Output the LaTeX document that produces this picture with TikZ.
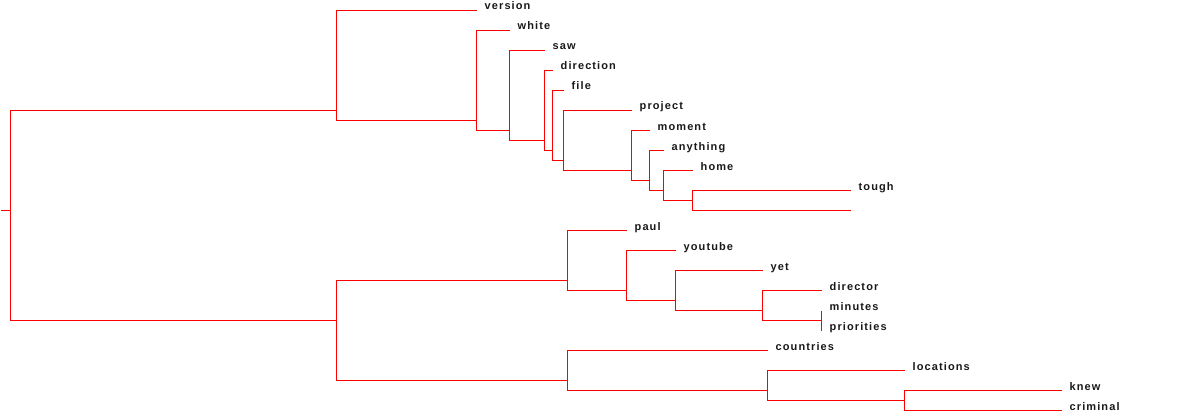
\documentclass[tikz,border=0pt]{standalone}
\usepackage{fontspec}
\setmainfont{Liberation Sans}[LetterSpace=10]
\begin{document}
\begin{tikzpicture}[x=1pt,y=-1pt,
  br/.style={draw=red,line width=1pt},
  lab/.style={anchor=base west,inner sep=0pt,font=\bfseries\fontsize{11}{13}\selectfont,text=black!90,xshift=8pt}]
\useasboundingbox (0,0) rectangle (1200,420);
\begin{scope}[shift={(0.5,0.5)}]
% leaves (line ends)
\coordinate (version) at (476,10);
\coordinate (white) at (509,30);
\coordinate (saw) at (544,50);
\coordinate (direction) at (552,70);
\coordinate (file) at (563,90);
\coordinate (project) at (631,110);
\coordinate (moment) at (649,130);
\coordinate (anything) at (663,150);
\coordinate (home) at (692,170);
\coordinate (tough) at (850,190);
\coordinate (blank) at (850,210);
\coordinate (paul) at (626,230);
\coordinate (youtube) at (675,250);
\coordinate (yet) at (762,270);
\coordinate (director) at (821,290);
\coordinate (minutes) at (821,310);
\coordinate (priorities) at (821,330);
\coordinate (countries) at (767,350);
\coordinate (locations) at (904,370);
\coordinate (knew) at (1061,390);
\coordinate (criminal) at (1061,410);
% internal nodes
\coordinate (n1) at (692,200);
\coordinate (n2) at (663,190);
\coordinate (n3) at (649,180);
\coordinate (n4) at (631,170);
\coordinate (n5) at (563,160);
\coordinate (n6) at (552,150);
\coordinate (n7) at (544,140);
\coordinate (n8) at (509,130);
\coordinate (n9) at (476,120);
\coordinate (n10) at (336,110);
\coordinate (m1) at (821,320);
\coordinate (m2) at (762,310);
\coordinate (m3) at (675,300);
\coordinate (m4) at (626,290);
\coordinate (m5) at (567,280);
\coordinate (k1) at (904,400);
\coordinate (k2) at (767,390);
\coordinate (k3) at (567,380);
\coordinate (m6) at (336,320);
\coordinate (root) at (10,210);
\coordinate (stub) at (0,210);
% branches
\draw[br] (tough) -| (n1) |- (blank);
\draw[br] (home) -| (n2) |- (n1);
\draw[br] (anything) -| (n3) |- (n2);
\draw[br] (moment) -| (n4) |- (n3);
\draw[br] (project) -| (n5) |- (n4);
\draw[br] (file) -| (n6) |- (n5);
\draw[br] (direction) -| (n7) |- (n6);
\draw[br] (saw) -| (n8) |- (n7);
\draw[br] (white) -| (n9) |- (n8);
\draw[br] (version) -| (n10) |- (n9);
\draw[br] (minutes) -- (m1) -- (priorities);
\draw[br] (director) -| (m2) |- (m1);
\draw[br] (yet) -| (m3) |- (m2);
\draw[br] (youtube) -| (m4) |- (m3);
\draw[br] (paul) -| (m5) |- (m4);
\draw[br] (knew) -| (k1) |- (criminal);
\draw[br] (locations) -| (k2) |- (k1);
\draw[br] (countries) -| (k3) |- (k2);
\draw[br] (m5) -| (m6) |- (k3);
\draw[br] (n10) -| (root) |- (m6);
\draw[br] (stub) -- (root);
% labels
\foreach \w in {version,white,saw,direction,file,project,moment,anything,home,tough,paul,youtube,yet,director,minutes,priorities,countries,locations,knew,criminal}
  \node[lab] (l\w) at ([yshift=0.5pt]\w) {\w};
\end{scope}
\end{tikzpicture}
\end{document}
